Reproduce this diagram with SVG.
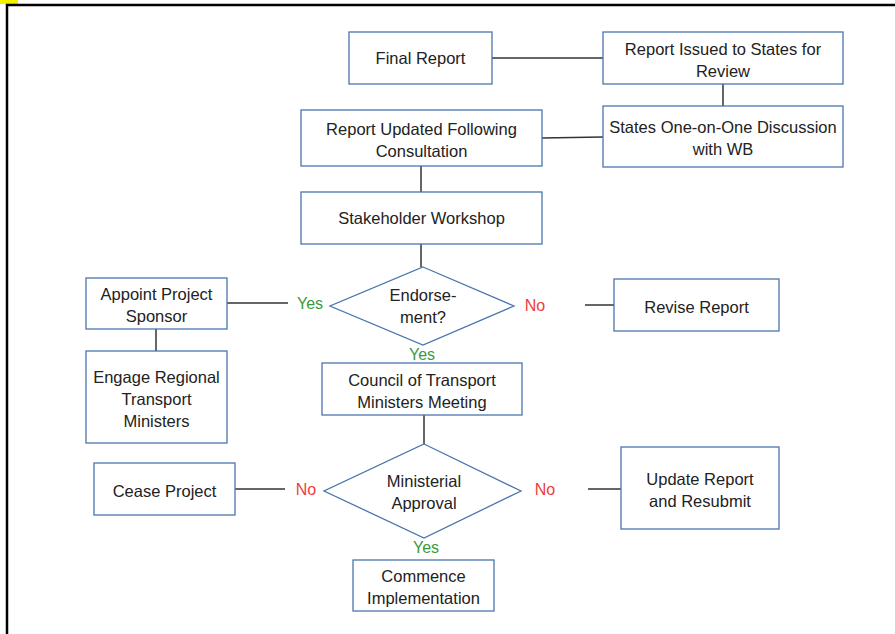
<svg xmlns="http://www.w3.org/2000/svg" width="895" height="634" viewBox="0 0 895 634">
<style>
.box{fill:#fff;stroke:#4a76ad;stroke-width:1.3}
.t{font-family:"Liberation Sans",Arial,sans-serif;font-size:16.5px;fill:#222;text-anchor:middle}
.c{stroke:#333;stroke-width:1.5;fill:none}
.y{font-family:"Liberation Sans",Arial,sans-serif;font-size:16px;fill:#3a9a3a;text-anchor:middle}
.n{font-family:"Liberation Sans",Arial,sans-serif;font-size:16px;fill:#f03c3c;text-anchor:middle}
</style>
<rect x="0" y="0" width="895" height="634" fill="#fff"/>
<rect x="0" y="0" width="18" height="4" fill="#f5f000"/>
<path d="M7,640 V5 H900" stroke="#000" stroke-width="2.5" fill="none"/>
<g id="connectors">
<line class="c" x1="492" y1="58" x2="603" y2="58"/>
<line class="c" x1="723" y1="84" x2="723" y2="106"/>
<line class="c" x1="542" y1="138" x2="603" y2="137"/>
<line class="c" x1="421" y1="166" x2="421" y2="192"/>
<line class="c" x1="421" y1="244" x2="421" y2="267"/>
<line class="c" x1="227" y1="303" x2="288" y2="303"/>
<line class="c" x1="585" y1="305" x2="614" y2="305"/>
<line class="c" x1="156" y1="329" x2="156" y2="351"/>
<line class="c" x1="424" y1="415" x2="424" y2="444"/>
<line class="c" x1="235" y1="489" x2="285" y2="489"/>
<line class="c" x1="588" y1="489" x2="621" y2="489"/>
<text class="y" x="310" y="309">Yes</text>
<text class="n" x="535" y="311">No</text>
<text class="y" x="422" y="360">Yes</text>
<text class="n" x="306" y="495">No</text>
<text class="n" x="545" y="495">No</text>
<text class="y" x="426" y="553">Yes</text>
</g>
<g id="final-report"><rect class="box" x="349" y="32" width="143" height="52"/><text class="t" x="420.5" y="64">Final Report</text></g>
<g id="report-issued"><rect class="box" x="603" y="32" width="240" height="52"/><text class="t" x="723" y="55">Report Issued to States for</text><text class="t" x="723" y="77">Review</text></g>
<g id="states-discussion"><rect class="box" x="603" y="106" width="240" height="61"/><text class="t" x="723" y="133">States One-on-One Discussion</text><text class="t" x="723" y="155">with WB</text></g>
<g id="report-updated"><rect class="box" x="301" y="110" width="241" height="56"/><text class="t" x="421.5" y="135">Report Updated Following</text><text class="t" x="421.5" y="157">Consultation</text></g>
<g id="stakeholder"><rect class="box" x="301" y="192" width="241" height="52"/><text class="t" x="421.5" y="224">Stakeholder Workshop</text></g>
<g id="endorsement"><polygon class="box" points="423,267 514,306 423,345 330,306"/><text class="t" x="423" y="301">Endorse-</text><text class="t" x="423" y="323">ment?</text></g>
<g id="appoint"><rect class="box" x="86" y="278" width="141" height="51"/><text class="t" x="156.5" y="300">Appoint Project</text><text class="t" x="156.5" y="322">Sponsor</text></g>
<g id="engage"><rect class="box" x="86" y="351" width="141" height="92"/><text class="t" x="156.5" y="383">Engage Regional</text><text class="t" x="156.5" y="405">Transport</text><text class="t" x="156.5" y="427">Ministers</text></g>
<g id="revise"><rect class="box" x="614" y="279" width="165" height="52"/><text class="t" x="696.5" y="313">Revise Report</text></g>
<g id="council"><rect class="box" x="322" y="363" width="200" height="52"/><text class="t" x="422" y="386">Council of Transport</text><text class="t" x="422" y="408">Ministers Meeting</text></g>
<g id="ministerial"><polygon class="box" points="424,444 521,491 424,538 324,491"/><text class="t" x="424" y="487">Ministerial</text><text class="t" x="424" y="509">Approval</text></g>
<g id="cease"><rect class="box" x="94" y="463" width="141" height="52"/><text class="t" x="164.5" y="497">Cease Project</text></g>
<g id="update"><rect class="box" x="621" y="447" width="158" height="82"/><text class="t" x="700" y="485">Update Report</text><text class="t" x="700" y="507">and Resubmit</text></g>
<g id="commence"><rect class="box" x="353" y="560" width="141" height="51"/><text class="t" x="423.5" y="582">Commence</text><text class="t" x="423.5" y="604">Implementation</text></g>
</svg>
